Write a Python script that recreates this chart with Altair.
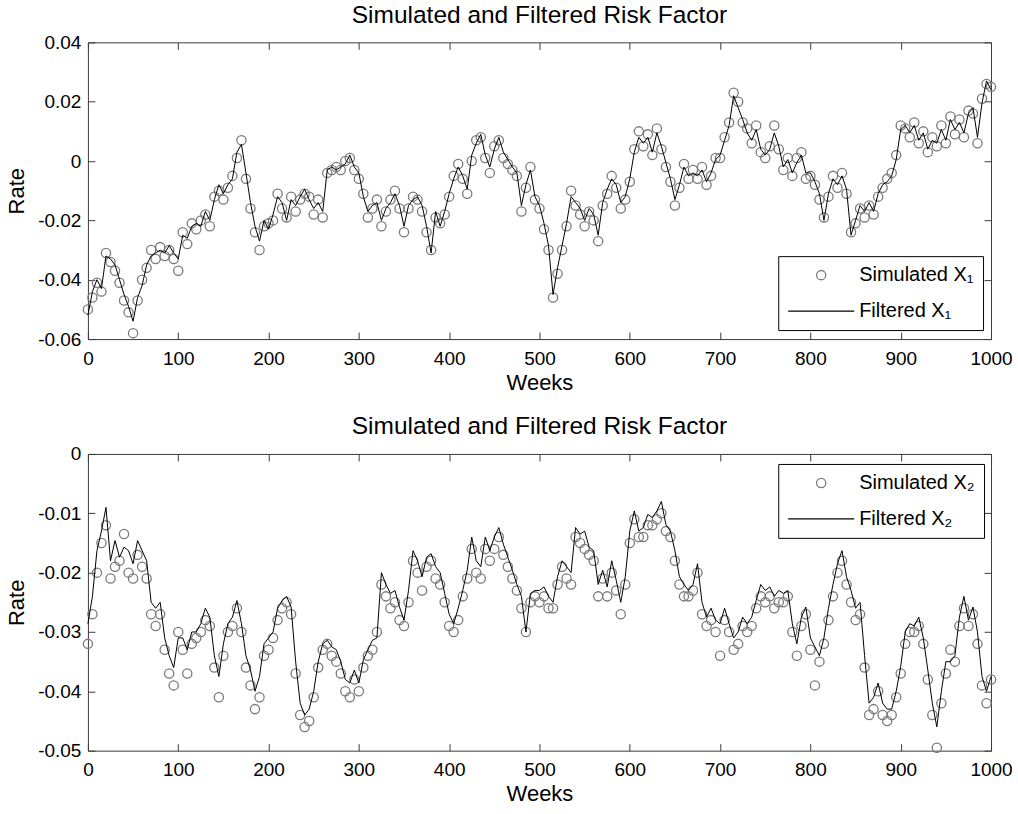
import altair as alt
import pandas as pd

# ---------------- data ----------------
weeks = list(range(0, 1001, 5))

x1_filtered = [
    -0.052, -0.044, -0.040, -0.043, -0.032, -0.033, -0.035, -0.040, -0.045, -0.049,
    -0.054, -0.046, -0.042, -0.035, -0.032, -0.031, -0.030, -0.031, -0.0285, -0.031,
    -0.033, -0.025, -0.026, -0.022, -0.021, -0.022, -0.017, -0.020, -0.013, -0.008,
    -0.011, -0.008, -0.006, 0.003, 0.0056, -0.004, -0.014, -0.022, -0.027, -0.020,
    -0.023, -0.018, -0.012, -0.014, -0.020, -0.013, -0.015, -0.012, -0.0095, -0.013,
    -0.016, -0.014, -0.017, -0.003, -0.002, -0.003, -0.002, -0.001, 0.002, -0.002,
    -0.004, -0.012, -0.017, -0.015, -0.014, -0.020, -0.016, -0.014, -0.011, -0.015,
    -0.022, -0.015, -0.013, -0.012, -0.015, -0.022, -0.031, -0.017, -0.022, -0.017,
    -0.011, -0.006, -0.002, -0.005, -0.0095, 0.002, 0.006, 0.009, 0.002, -0.002,
    0.004, 0.008, 0.003, 0.0005, -0.002, -0.004, -0.015, -0.008, -0.003, -0.012,
    -0.015, -0.021, -0.0285, -0.045, -0.036, -0.0285, -0.021, -0.012, -0.014, -0.016,
    -0.020, -0.016, -0.018, -0.025, -0.014, -0.0095, -0.006, -0.008, -0.014, -0.012,
    -0.006, 0.003, 0.008, 0.006, 0.008, 0.003, 0.0095, 0.005, -0.0005, -0.006,
    -0.013, -0.008, -0.002, -0.005, -0.004, -0.005, -0.003, -0.007, -0.004, 0.0005,
    0.002, 0.007, 0.012, 0.022, 0.018, 0.014, 0.0095, 0.007, 0.0106, 0.004,
    0.002, 0.004, 0.0095, 0.005, -0.002, 0.0005, -0.004, -0.0005, 0.002, -0.004,
    -0.004, -0.007, -0.011, -0.020, -0.011, -0.006, -0.008, -0.005, -0.0095, -0.025,
    -0.020, -0.015, -0.017, -0.014, -0.017, -0.011, -0.008, -0.007, -0.005, 0.0005,
    0.0106, 0.012, 0.0095, 0.012, 0.007, 0.0095, 0.004, 0.007, 0.006, 0.0106,
    0.007, 0.014, 0.0106, 0.013, 0.0095, 0.016, 0.018, 0.008, 0.0195, 0.027,
    0.024,
]

x1_simulated = [
    -0.050, -0.046, -0.041, -0.044, -0.031, -0.034, -0.037, -0.041, -0.047, -0.051,
    -0.058, -0.047, -0.040, -0.036, -0.030, -0.033, -0.029, -0.032, -0.030, -0.033,
    -0.037, -0.024, -0.028, -0.021, -0.023, -0.020, -0.018, -0.022, -0.012, -0.010,
    -0.013, -0.009, -0.005, 0.001, 0.007, -0.006, -0.016, -0.024, -0.030, -0.022,
    -0.021, -0.020, -0.011, -0.016, -0.019, -0.012, -0.017, -0.013, -0.011, -0.012,
    -0.018, -0.013, -0.019, -0.004, -0.003, -0.002, -0.003, 0.000, 0.001, -0.003,
    -0.006, -0.011, -0.019, -0.016, -0.013, -0.022, -0.017, -0.013, -0.010, -0.016,
    -0.024, -0.016, -0.012, -0.013, -0.017, -0.024, -0.030, -0.019, -0.021, -0.018,
    -0.012, -0.005, -0.001, -0.006, -0.011, 0.000, 0.007, 0.008, 0.001, -0.004,
    0.005, 0.007, 0.001, -0.001, -0.003, -0.005, -0.017, -0.009, -0.002, -0.013,
    -0.016, -0.023, -0.030, -0.046, -0.038, -0.030, -0.022, -0.010, -0.015, -0.018,
    -0.022, -0.017, -0.020, -0.027, -0.015, -0.011, -0.005, -0.009, -0.016, -0.013,
    -0.007, 0.004, 0.010, 0.005, 0.009, 0.002, 0.011, 0.004, -0.002, -0.007,
    -0.015, -0.009, -0.001, -0.006, -0.003, -0.006, -0.002, -0.008, -0.005, 0.001,
    0.001, 0.008, 0.013, 0.023, 0.020, 0.013, 0.011, 0.006, 0.012, 0.003,
    0.001, 0.005, 0.012, 0.004, -0.003, 0.001, -0.005, 0.001, 0.003, -0.006,
    -0.005, -0.008, -0.013, -0.019, -0.012, -0.005, -0.009, -0.004, -0.011, -0.024,
    -0.021, -0.016, -0.019, -0.015, -0.018, -0.012, -0.009, -0.006, -0.004, 0.002,
    0.012, 0.011, 0.008, 0.013, 0.006, 0.010, 0.003, 0.008, 0.005, 0.012,
    0.006, 0.015, 0.009, 0.014, 0.008, 0.017, 0.016, 0.006, 0.021, 0.026,
    0.025,
]

x2_filtered = [
    -0.0286, -0.024, -0.0163, -0.013, -0.009, -0.018, -0.0146, -0.0174, -0.0157, -0.0163,
    -0.0185, -0.0146, -0.0163, -0.018, -0.025, -0.026, -0.025, -0.031, -0.034, -0.036,
    -0.031, -0.031, -0.033, -0.030, -0.030, -0.0286, -0.026, -0.0275, -0.034, -0.0375,
    -0.032, -0.0286, -0.0275, -0.0247, -0.0286, -0.034, -0.0364, -0.040, -0.0375, -0.032,
    -0.031, -0.030, -0.026, -0.0247, -0.024, -0.0258, -0.035, -0.042, -0.044, -0.043,
    -0.040, -0.035, -0.032, -0.0314, -0.0325, -0.033, -0.035, -0.038, -0.0386, -0.0364,
    -0.0386, -0.0347, -0.033, -0.0314, -0.031, -0.020, -0.022, -0.0235, -0.023, -0.0258,
    -0.028, -0.023, -0.0163, -0.018, -0.0207, -0.0174, -0.0168, -0.019, -0.020, -0.0235,
    -0.027, -0.0286, -0.026, -0.023, -0.0196, -0.014, -0.018, -0.019, -0.014, -0.0163,
    -0.014, -0.0124, -0.0152, -0.0174, -0.0196, -0.022, -0.024, -0.030, -0.0235, -0.023,
    -0.023, -0.0224, -0.024, -0.025, -0.0207, -0.018, -0.019, -0.020, -0.0124, -0.0135,
    -0.013, -0.0157, -0.0163, -0.022, -0.0196, -0.0224, -0.018, -0.0213, -0.025, -0.0207,
    -0.013, -0.0096, -0.013, -0.0124, -0.0102, -0.0107, -0.0096, -0.008, -0.0119, -0.013,
    -0.0163, -0.0207, -0.022, -0.023, -0.022, -0.0185, -0.025, -0.0275, -0.026, -0.028,
    -0.0286, -0.026, -0.0286, -0.031, -0.030, -0.0275, -0.0286, -0.0275, -0.0247, -0.022,
    -0.023, -0.0224, -0.024, -0.023, -0.0235, -0.023, -0.0286, -0.032, -0.0275, -0.0258,
    -0.031, -0.0325, -0.034, -0.031, -0.026, -0.022, -0.0185, -0.0163, -0.0207, -0.023,
    -0.026, -0.025, -0.034, -0.042, -0.041, -0.0386, -0.042, -0.043, -0.043, -0.040,
    -0.0358, -0.030, -0.0286, -0.029, -0.0275, -0.031, -0.0364, -0.042, -0.046, -0.040,
    -0.035, -0.035, -0.034, -0.0275, -0.024, -0.028, -0.0258, -0.030, -0.0375, -0.040,
    -0.0375,
]

x2_simulated = [
    -0.032, -0.027, -0.020, -0.015, -0.012, -0.021, -0.019, -0.018, -0.0135, -0.020,
    -0.021, -0.017, -0.019, -0.021, -0.027, -0.029, -0.027, -0.033, -0.037, -0.039,
    -0.030, -0.033, -0.037, -0.032, -0.031, -0.030, -0.028, -0.029, -0.036, -0.041,
    -0.034, -0.030, -0.029, -0.026, -0.030, -0.036, -0.039, -0.043, -0.041, -0.034,
    -0.033, -0.031, -0.028, -0.026, -0.025, -0.027, -0.037, -0.044, -0.046, -0.045,
    -0.041, -0.036, -0.033, -0.032, -0.034, -0.035, -0.037, -0.040, -0.041, -0.038,
    -0.040, -0.036, -0.034, -0.033, -0.030, -0.022, -0.024, -0.026, -0.025, -0.028,
    -0.029, -0.025, -0.018, -0.020, -0.023, -0.019, -0.018, -0.021, -0.022, -0.025,
    -0.029, -0.030, -0.028, -0.024, -0.021, -0.016, -0.020, -0.021, -0.016, -0.018,
    -0.016, -0.014, -0.017, -0.019, -0.021, -0.023, -0.026, -0.030, -0.025, -0.024,
    -0.025, -0.024, -0.026, -0.026, -0.022, -0.019, -0.021, -0.022, -0.014, -0.015,
    -0.016, -0.017, -0.018, -0.024, -0.021, -0.024, -0.020, -0.023, -0.027, -0.022,
    -0.015, -0.011, -0.014, -0.014, -0.012, -0.012, -0.011, -0.010, -0.013, -0.014,
    -0.018, -0.022, -0.024, -0.024, -0.023, -0.020, -0.027, -0.029, -0.028, -0.030,
    -0.034, -0.028, -0.030, -0.033, -0.032, -0.029, -0.030, -0.029, -0.026, -0.024,
    -0.025, -0.024, -0.026, -0.025, -0.025, -0.024, -0.030, -0.034, -0.029, -0.027,
    -0.033, -0.039, -0.035, -0.032, -0.028, -0.024, -0.020, -0.018, -0.022, -0.025,
    -0.028, -0.027, -0.036, -0.044, -0.043, -0.040, -0.044, -0.045, -0.044, -0.041,
    -0.037, -0.032, -0.030, -0.030, -0.029, -0.032, -0.038, -0.044, -0.0495, -0.042,
    -0.037, -0.033, -0.035, -0.029, -0.026, -0.029, -0.027, -0.032, -0.039, -0.042,
    -0.038,
]

x_ticks = list(range(0, 1001, 100))
y1_ticks = [-0.06, -0.04, -0.02, 0, 0.02, 0.04]
y2_ticks = [-0.05, -0.04, -0.03, -0.02, -0.01, 0]

TITLE = "Simulated and Filtered Risk Factor"
FONT = "Liberation Sans"
W, H = 904, 297
GRAY = "#7a7a7a"
FRAME = "#3a3a3a"
LINE_SYMBOL = "M-7.17,0H7.17"
LABEL_EXPR = "'' + datum.value"


def panel(filtered, simulated, y_domain, y_ticks, sub, legend_y):
    sim_label = "Simulated X" + sub
    filt_label = "Filtered X" + sub
    sim_df = pd.DataFrame({"week": weeks, "rate": simulated, "series": sim_label})
    filt_df = pd.DataFrame({"week": weeks, "rate": filtered})

    xscale = alt.Scale(domain=[0, 1000], nice=False, zero=False)
    yscale = alt.Scale(domain=y_domain, nice=False, zero=False)

    leg = alt.Legend(
        title=None, orient="none", legendX=691, legendY=legend_y, direction="vertical",
        strokeColor="black", fillColor="white", padding=9, cornerRadius=0,
        labelFont=FONT, labelFontSize=20, labelColor="black", labelOffset=28,
        symbolOffset=24, symbolSize=85, symbolStrokeWidth=1.3, rowPadding=16,
        labelLimit=300,
    )

    pts = alt.Chart(sim_df).mark_point(filled=False, size=85, strokeWidth=1.3, opacity=1).encode(
        x=alt.X("week:Q", scale=xscale, axis=alt.Axis(
            orient="bottom", values=x_ticks, offset=-7, tickSize=7, domain=False,
            labelPadding=10, labelFlush=False, title="Weeks", titlePadding=4,
            labelExpr=LABEL_EXPR)),
        y=alt.Y("rate:Q", scale=yscale, axis=alt.Axis(
            orient="left", values=y_ticks, offset=-7, tickSize=7, domain=False,
            labelPadding=7, labelFlush=False, title="Rate", titlePadding=9,
            labelExpr=LABEL_EXPR)),
        color=alt.Color("series:N", scale=alt.Scale(domain=[sim_label, filt_label],
                                                     range=[GRAY, "black"]), legend=leg),
        shape=alt.Shape("series:N", scale=alt.Scale(domain=[sim_label, filt_label],
                                                     range=["circle", LINE_SYMBOL]), legend=leg),
    )

    line = alt.Chart(filt_df).mark_line(color="black", strokeWidth=1).encode(
        x=alt.X("week:Q", scale=xscale, axis=alt.Axis(
            orient="top", values=x_ticks, offset=-7, tickSize=7, domain=False,
            labels=False, title=None, minExtent=0, maxExtent=0)),
        y=alt.Y("rate:Q", scale=yscale, axis=alt.Axis(
            orient="right", values=y_ticks, offset=-7, tickSize=7, domain=False,
            labels=False, title=None, minExtent=0, maxExtent=0)),
    )

    return alt.layer(pts, line).resolve_axis(x="independent", y="independent").properties(
        width=W, height=H,
        title=alt.Title(TITLE, fontSize=24.5, font=FONT, fontWeight="normal", color="black",
                        anchor="middle", baseline="alphabetic", offset=-14),
    )


top = panel(x1_filtered, x1_simulated, [-0.06, 0.04], y1_ticks, "\u2081", 214)
bottom = panel(x2_filtered, x2_simulated, [-0.05, 0.0], y2_ticks, "\u2082", 10)

chart = alt.vconcat(top, bottom, spacing=20).resolve_scale(
    color="independent", shape="independent"
).resolve_legend(
    color="independent", shape="independent"
).properties(
    padding={"left": 5, "top": 2, "right": 5, "bottom": 5},
    background="white",
).configure_view(
    stroke=FRAME, strokeWidth=1
).configure_axis(
    labelFont=FONT, labelFontSize=19, labelColor="black",
    titleFont=FONT, titleFontSize=22, titleFontWeight="normal", titleColor="black",
    tickColor=FRAME, tickWidth=1, grid=False,
)

chart.save("out.html", embed_options={"renderer": "svg", "actions": False})
